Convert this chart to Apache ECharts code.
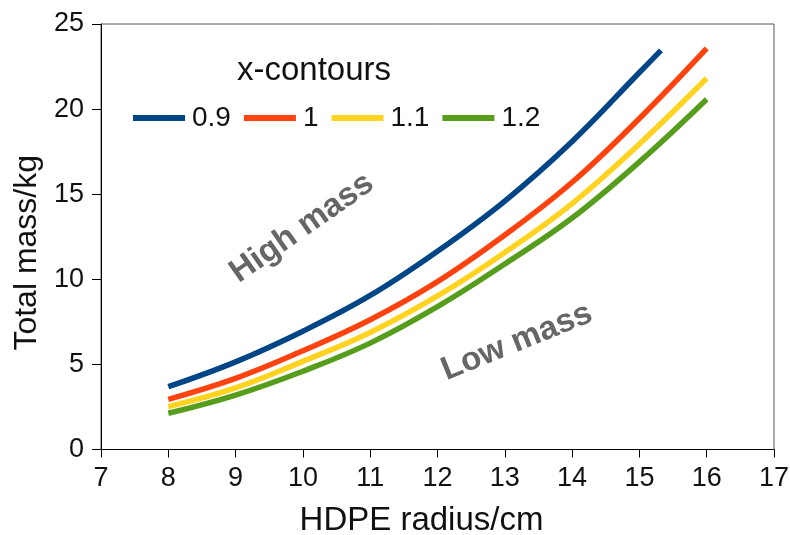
<!DOCTYPE html>
<html>
<head>
<meta charset="utf-8">
<script src="https://cdn.jsdelivr.net/npm/echarts@6/dist/echarts.min.js"></script>
<style>
html,body{margin:0;padding:0;background:#fff;}
#chart{width:790px;height:535px;}
</style>
</head>
<body>
<div id="chart"></div>
<script>
var seriesNames = ['0.9', '1', '1.1', '1.2'];
var seriesColors = ['#004586', '#ff420e', '#ffd320', '#579d1c'];
var radius09 = [8, 9, 10, 11, 12, 13, 14, 15, 15.32];
var mass09 = [3.69, 5.15, 6.95, 9.05, 11.65, 14.6, 18.1, 22.15, 23.45];
var radius = [8, 9, 10, 11, 12, 13, 14, 15, 16];
var mass10 = [2.95, 4.18, 5.8, 7.62, 9.86, 12.6, 15.7, 19.45, 23.57];
var mass11 = [2.52, 3.62, 5.18, 6.88, 9.02, 11.58, 14.45, 17.95, 21.81];
var mass12 = [2.13, 3.2, 4.6, 6.25, 8.39, 10.9, 13.6, 16.9, 20.58];
var xTicks = [7, 8, 9, 10, 11, 12, 13, 14, 15, 16, 17];
var yTicks = [0, 5, 10, 15, 20, 25];

function pairs(xs, ys) { return xs.map(function (x, i) { return [x, ys[i]]; }); }
var allData = [pairs(radius09, mass09), pairs(radius, mass10), pairs(radius, mass11), pairs(radius, mass12)];

var FONT = '"Liberation Sans", Arial, sans-serif';
var chart = echarts.init(document.getElementById('chart'), null, {renderer: 'canvas'});
chart.setOption({
  animation: false,
  backgroundColor: '#ffffff',
  grid: {left: 101, right: 16, top: 24, bottom: 85.5, show: true, borderColor: '#555555', borderWidth: 1,
         backgroundColor: 'transparent', containLabel: false, outerBoundsMode: 'none'},
  xAxis: {
    type: 'value', min: xTicks[0], max: xTicks[xTicks.length - 1], interval: 1,
    name: 'HDPE radius/cm', nameLocation: 'middle', nameGap: 55,
    nameTextStyle: {fontFamily: FONT, fontSize: 33, color: '#111', padding: [0, 32, 0, 0]},
    axisLine: {show: true, lineStyle: {color: '#000', width: 1}},
    axisTick: {show: true, length: 8, lineStyle: {color: '#000'}},
    axisLabel: {fontFamily: FONT, fontSize: 27, color: '#111', margin: 16},
    splitLine: {show: false}
  },
  yAxis: {
    type: 'value', min: yTicks[0], max: yTicks[yTicks.length - 1], interval: 5,
    name: 'Total mass/kg', nameLocation: 'middle', nameGap: 55,
    nameTextStyle: {fontFamily: FONT, fontSize: 32, color: '#111', padding: [0, 32, 0, 0]},
    axisLine: {show: true, lineStyle: {color: '#000', width: 1}},
    axisTick: {show: true, length: 9, lineStyle: {color: '#000'}},
    axisLabel: {fontFamily: FONT, fontSize: 27, color: '#111', margin: 17},
    splitLine: {show: false}
  },
  legend: {
    left: 133, top: 102, padding: 0, itemWidth: 52, itemHeight: 6, itemGap: 13,
    icon: 'rect',
    textStyle: {fontFamily: FONT, fontSize: 28, color: '#111', lineHeight: 32, padding: [0, 0, 0, 2]},
    data: seriesNames
  },
  graphic: [
    {type: 'text', left: 237, top: 54, style: {text: 'x-contours', font: '33px ' + FONT, fill: '#111'}},
    {type: 'text', x: 302, y: 228, rotation: 35 * Math.PI / 180,
     style: {text: 'High mass', font: 'bold 33px ' + FONT, fill: '#666666', align: 'center', verticalAlign: 'middle'}},
    {type: 'text', x: 517, y: 342, rotation: 22 * Math.PI / 180,
     style: {text: 'Low mass', font: 'bold 33px ' + FONT, fill: '#666666', align: 'center', verticalAlign: 'middle'}}
  ],
  series: seriesNames.map(function (n, i) {
    return {
      name: n, type: 'line', data: allData[i], smooth: 0.4, showSymbol: false, symbol: 'none',
      lineStyle: {color: seriesColors[i], width: 5.5}, itemStyle: {color: seriesColors[i]}
    };
  })
});
</script>
</body>
</html>
